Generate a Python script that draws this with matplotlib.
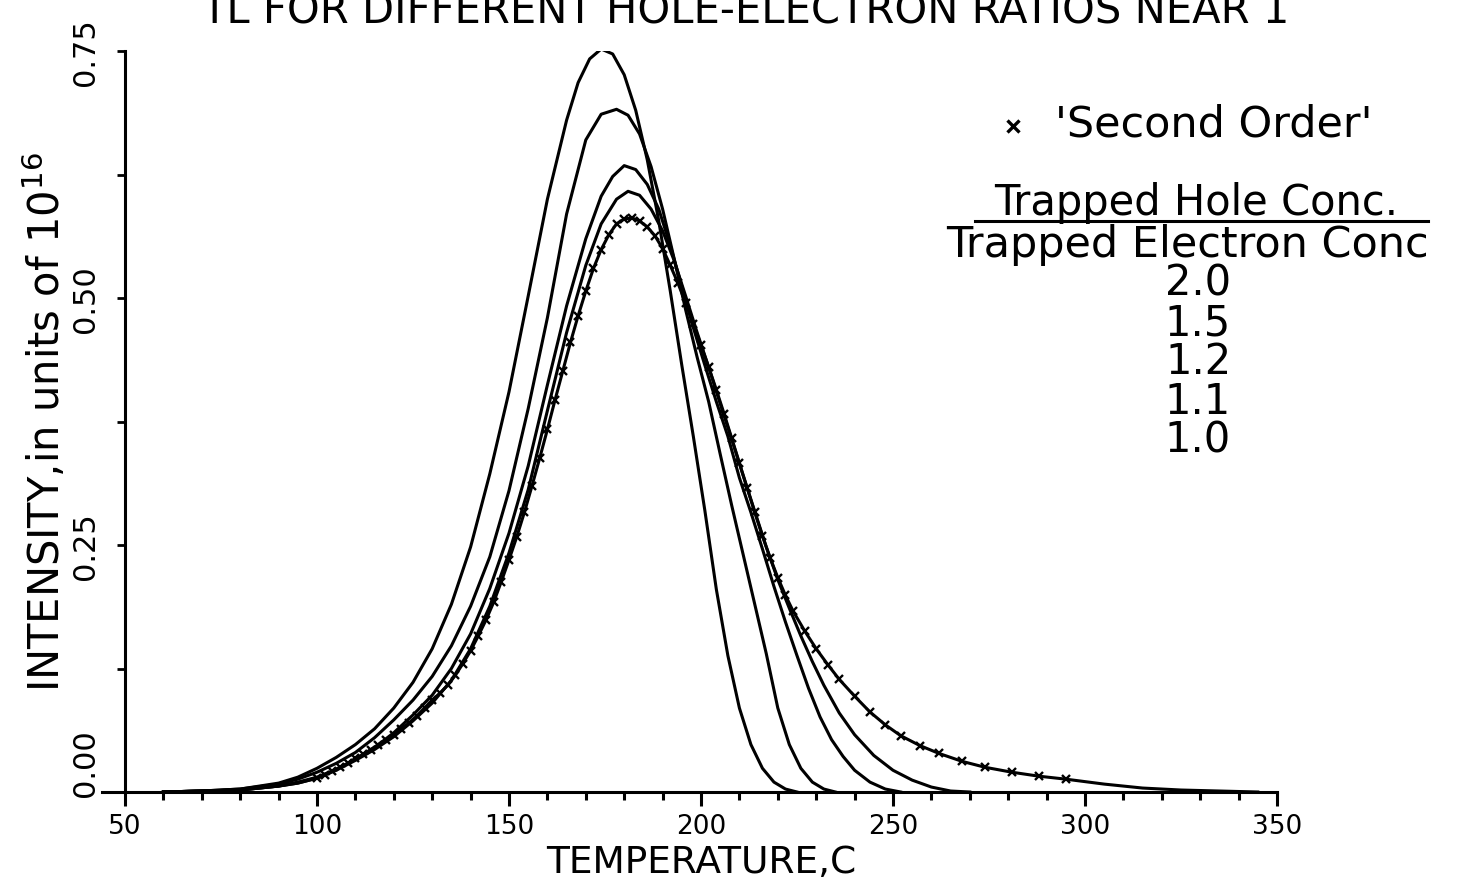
import numpy as np
import matplotlib
matplotlib.use("Agg")
import matplotlib.pyplot as plt
from matplotlib.lines import Line2D

# ---- data (temperature in C, intensity in units of 1e16) ----
t_20 = [60, 70, 80, 90, 95, 100, 105, 110, 115, 120, 125, 130, 135, 140, 145, 150, 155, 160,
        165, 168, 171, 174, 177, 180, 183, 186, 189, 192, 195, 198, 201, 204, 207, 210, 213,
        216, 219, 222, 225]
i_20 = [0.0, 0.001, 0.003, 0.009, 0.015, 0.024, 0.035, 0.048, 0.064, 0.085, 0.111, 0.145,
        0.190, 0.248, 0.322, 0.405, 0.502, 0.600, 0.680, 0.718, 0.742, 0.752, 0.747, 0.726,
        0.690, 0.640, 0.578, 0.507, 0.432, 0.360, 0.285, 0.205, 0.138, 0.085, 0.048, 0.024,
        0.010, 0.003, 0.0]

t_15 = [60, 70, 80, 90, 95, 100, 105, 110, 115, 120, 125, 130, 135, 140, 145, 150, 155, 160,
        165, 170, 174, 178, 181, 184, 187, 190, 193, 196, 199, 202, 205, 208, 211, 214, 217,
        220, 223, 226, 229, 232, 235]
i_15 = [0.0, 0.001, 0.003, 0.008, 0.013, 0.020, 0.029, 0.040, 0.055, 0.073, 0.093, 0.117,
        0.148, 0.188, 0.238, 0.305, 0.388, 0.480, 0.585, 0.660, 0.686, 0.691, 0.685, 0.666,
        0.633, 0.590, 0.540, 0.488, 0.440, 0.395, 0.342, 0.290, 0.240, 0.190, 0.140, 0.085,
        0.048, 0.024, 0.010, 0.003, 0.0]

t_12 = [60, 70, 80, 90, 95, 100, 105, 110, 115, 120, 125, 130, 135, 140, 145, 150, 155, 160,
        165, 170, 174, 177, 180, 183, 186, 189, 192, 195, 198, 201, 204, 207, 210, 213, 216,
        219, 222, 225, 228, 231, 234, 237, 240, 244, 248, 252]
i_12 = [0.0, 0.001, 0.002, 0.006, 0.010, 0.015, 0.023, 0.033, 0.045, 0.060, 0.078, 0.098,
        0.125, 0.160, 0.206, 0.262, 0.330, 0.412, 0.492, 0.560, 0.603, 0.623, 0.634, 0.630,
        0.615, 0.590, 0.553, 0.512, 0.470, 0.432, 0.395, 0.360, 0.318, 0.283, 0.246, 0.208,
        0.172, 0.138, 0.105, 0.076, 0.053, 0.036, 0.022, 0.010, 0.003, 0.0]

t_11 = [60, 70, 80, 90, 95, 100, 105, 110, 115, 120, 125, 130, 135, 140, 145, 150, 155, 160,
        165, 170, 174, 178, 181, 184, 187, 190, 193, 196, 199, 202, 205, 208, 211, 214, 217,
        220, 223, 226, 229, 232, 236, 240, 245, 250, 255, 260, 265, 270]
i_11 = [0.0, 0.001, 0.002, 0.006, 0.009, 0.014, 0.022, 0.032, 0.043, 0.056, 0.072, 0.090,
        0.113, 0.145, 0.188, 0.242, 0.306, 0.386, 0.465, 0.533, 0.575, 0.600, 0.608, 0.604,
        0.590, 0.568, 0.538, 0.502, 0.465, 0.430, 0.393, 0.357, 0.320, 0.284, 0.248, 0.215,
        0.186, 0.158, 0.132, 0.108, 0.080, 0.058, 0.037, 0.022, 0.012, 0.005, 0.001, 0.0]

# ratio 1.0 = 'second order' curve, marked with x between 100 and 295 C
t_10 = [60, 70, 80, 90, 95,
        100, 102, 104, 106, 108, 110, 112, 114, 116, 118, 120, 122, 124, 126, 128, 130,
        132, 134, 136, 138, 140, 142, 144, 146, 148, 150, 152, 154, 156, 158, 160, 162,
        164, 166, 168, 170, 172, 174, 176, 178, 180, 182, 184, 186, 188, 190, 192, 194,
        196, 198, 200, 202, 204, 206, 208, 210, 212, 214, 216, 218, 220, 222, 224, 227,
        230, 233, 236, 240, 244, 248, 252, 257, 262, 268, 274, 281, 288, 295,
        305, 315, 325, 335, 345]
i_10 = [0.0, 0.001, 0.002, 0.006, 0.009,
        0.014, 0.017, 0.021, 0.025, 0.029, 0.034, 0.038, 0.043, 0.048, 0.053, 0.058, 0.064,
        0.070, 0.077, 0.085, 0.093, 0.100, 0.108, 0.118, 0.130, 0.143, 0.158, 0.174, 0.192,
        0.213, 0.235, 0.258, 0.283, 0.310, 0.338, 0.367, 0.397, 0.426, 0.455, 0.482, 0.507,
        0.530, 0.549, 0.564, 0.575, 0.580, 0.581, 0.578, 0.572, 0.563, 0.550, 0.533, 0.515,
        0.495, 0.474, 0.452, 0.430, 0.407, 0.383, 0.358, 0.333, 0.308, 0.283, 0.259, 0.237,
        0.217, 0.199, 0.183, 0.163, 0.145, 0.129, 0.114, 0.097, 0.081, 0.068, 0.057, 0.047,
        0.039, 0.031, 0.025, 0.020, 0.016, 0.013,
        0.008, 0.004, 0.002, 0.001, 0.0]

ratio_labels = ["2.0", "1.5", "1.2", "1.1", "1.0"]
x_ticks = [50, 100, 150, 200, 250, 300, 350]
y_ticks = [0.00, 0.25, 0.50, 0.75]

W, H = 1462, 887
plt.rcParams['font.family'] = ["DejaVu Sans"]

fig = plt.figure(figsize=(W / 100, H / 100), dpi=100)
ax = fig.add_axes([125 / W, 1 - 793 / H, 1152 / W, 741 / H])

for t, i in [(t_20, i_20), (t_15, i_15), (t_12, i_12), (t_11, i_11), (t_10, i_10)]:
    ax.plot(t, i, color="black", lw=2.2, solid_joinstyle="round", zorder=3)

# markers of the 'second order' curve
t10 = np.array(t_10)
i10 = np.array(i_10)
mk = (t10 >= 100) & (t10 <= 295)
ax.plot(t10[mk], i10[mk], ls="none", marker="x", ms=6, mew=1.7, color="black", zorder=4)

ax.set_xlim(50, 350)
ax.set_ylim(0, 0.75)
for s in ["top", "right"]:
    ax.spines[s].set_visible(False)
ax.spines["left"].set_linewidth(2.2)
ax.spines["bottom"].set_linewidth(2.2)
ax.spines["bottom"].set_bounds(44, 350)

ax.set_xticks(x_ticks)
ax.set_xticks(np.arange(60, 350, 10), minor=True)
ax.tick_params(axis="x", which="major", direction="out", length=10, width=2.2,
               labelsize=19, pad=5)
ax.tick_params(axis="x", which="minor", direction="out", length=6, width=2.2)

ax.set_yticks(np.arange(0, 0.76, 0.125))
ax.set_yticklabels([])
ax.tick_params(axis="y", direction="out", length=6, width=2)
ytrans = ax.get_yaxis_transform()
for v in y_ticks:
    yoff = 0.03 if v == 0 else 0.0
    ax.text(-0.034, v + yoff, f"{v:.2f}", transform=ytrans, rotation=90,
            ha="center", va="center", fontsize=22)

ax.set_xlabel("TEMPERATURE,C", fontsize=27, labelpad=4)
fig.text(45 / W, 1 - 422 / H, "INTENSITY,in units of $10^{16}$", rotation=90,
         ha="center", va="center", fontsize=30)

fig.text(745 / W, 1 - 23 / H, "TL FOR DIFFERENT HOLE-ELECTRON RATIOS NEAR 1",
         ha="center", va="baseline", fontsize=30)

# legend block
fig.add_artist(Line2D([1013 / W], [1 - 127 / H], marker="x", ms=9, mew=2.4,
                      color="black", transform=fig.transFigure))
fig.text(1055 / W, 1 - 125 / H, "'Second Order'", ha="left", va="center", fontsize=31)
fig.text(1196 / W, 1 - 203 / H, "Trapped Hole Conc.", ha="center", va="center", fontsize=30)
fig.add_artist(Line2D([975 / W, 1428 / W], [1 - 222 / H, 1 - 222 / H], lw=2.2,
                      color="black", transform=fig.transFigure))
fig.text(1187 / W, 1 - 245 / H, "Trapped Electron Conc", ha="center", va="center", fontsize=31)
for k, lab in enumerate(ratio_labels):
    fig.text(1198 / W, 1 - (284 + 39.2 * k) / H, lab, ha="center", va="center", fontsize=30)

fig.savefig("out.png", dpi=100, facecolor="white")
